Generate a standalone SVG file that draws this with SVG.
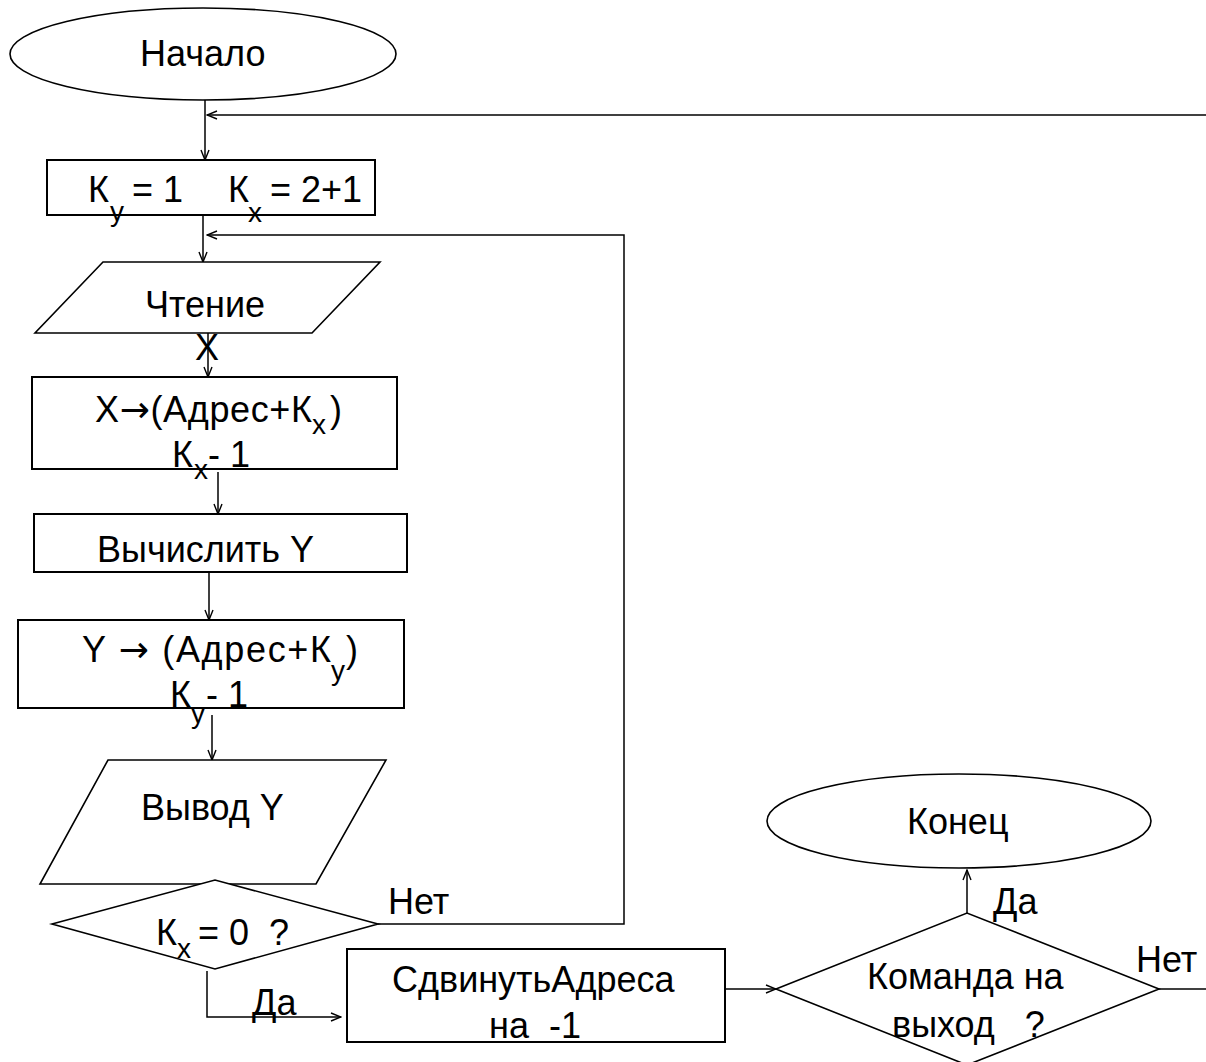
<svg xmlns="http://www.w3.org/2000/svg" width="1206" height="1062" viewBox="0 0 1206 1062">
  <defs>
    <style>
      .shape { fill: #ffffff; stroke: #000000; stroke-width: 1.6; }
      .box { fill: #ffffff; stroke: #000000; stroke-width: 2; }
      .wire { fill: none; stroke: #000000; stroke-width: 1.5; }
      text { font-family: "Liberation Sans", Arial, sans-serif; font-size: 36px; fill: #000000; }
      .mid { text-anchor: middle; }
      .sub { font-size: 28px; }
      .arr { font-family: "DejaVu Sans", sans-serif; }
    </style>
    <marker id="arrow" markerUnits="userSpaceOnUse" viewBox="0 0 12 10" refX="11" refY="5" markerWidth="12" markerHeight="10" orient="auto">
      <path d="M1,1 L11,5 L1,9" fill="none" stroke="#000000" stroke-width="1.4"/>
    </marker>
  </defs>

  <!-- connectors -->
  <g id="connectors">
    <path class="wire" d="M205,100 V160" marker-end="url(#arrow)"/>
    <path class="wire" d="M1206,115 H207" marker-end="url(#arrow)"/>
    <path class="wire" d="M203,215 V262" marker-end="url(#arrow)"/>
    <path class="wire" d="M378,924 H624 V235 H207" marker-end="url(#arrow)"/>
    <path class="wire" d="M208,333 V377" marker-end="url(#arrow)"/>
    <path class="wire" d="M218,472 V514" marker-end="url(#arrow)"/>
    <path class="wire" d="M209,572 V620" marker-end="url(#arrow)"/>
    <path class="wire" d="M212,715 V760" marker-end="url(#arrow)"/>
    <path class="wire" d="M214,850 V880" marker-end="url(#arrow)"/>
    <path class="wire" d="M207,971 V1017 H341" marker-end="url(#arrow)"/>
    <path class="wire" d="M725,989 H776" marker-end="url(#arrow)"/>
    <path class="wire" d="M967,913 V870" marker-end="url(#arrow)"/>
    <path class="wire" d="M1159,989 H1206"/>
  </g>

  <!-- start terminal -->
  <g id="start">
    <ellipse class="shape" cx="203" cy="54" rx="193" ry="46"/>
    <text x="140" y="66">Начало</text>
  </g>

  <!-- counters initialisation -->
  <g id="init">
    <rect class="box" x="47" y="160" width="328" height="55"/>
    <text x="88" y="202">К</text>
    <text x="110" y="221" class="sub">у</text>
    <text x="132" y="202">= 1</text>
    <text x="228" y="202">К</text>
    <text x="248" y="222" class="sub">х</text>
    <text x="270" y="202">= 2+1</text>
  </g>

  <!-- read input -->
  <g id="read">
    <polygon class="shape" points="103,262 380,262 312,333 35,333"/>
    <text x="145" y="317">Чтение</text>
    <text x="207" y="360" class="mid">X</text>
  </g>

  <!-- store X -->
  <g id="store-x">
    <rect class="box" x="32" y="377" width="365" height="92"/>
    <text x="95" y="422" textLength="217" lengthAdjust="spacing">X<tspan class="arr">→</tspan>(Адрес+К</text>
    <text x="312" y="434" class="sub">х</text>
    <text x="330" y="422">)</text>
    <text x="172" y="467">К</text>
    <text x="194" y="479" class="sub">х</text>
    <text x="208" y="467">- 1</text>
  </g>

  <!-- compute Y -->
  <g id="compute">
    <rect class="box" x="34" y="514" width="373" height="58"/>
    <text x="97" y="562">Вычислить Y</text>
  </g>

  <!-- store Y -->
  <g id="store-y">
    <rect class="box" x="18" y="620" width="386" height="88"/>
    <text x="82" y="662" textLength="249" lengthAdjust="spacing">Y <tspan class="arr">→</tspan> (Адрес+К</text>
    <text x="331" y="680" class="sub">у</text>
    <text x="346" y="662">)</text>
    <text x="170" y="707">К</text>
    <text x="191" y="723" class="sub">у</text>
    <text x="206" y="707">- 1</text>
  </g>

  <!-- output Y -->
  <g id="output">
    <polygon class="shape" points="108,760 386,760 316,884 40,884"/>
    <text x="141" y="820">Вывод Y</text>
  </g>

  <!-- Kx = 0 decision -->
  <g id="check-kx">
    <polygon class="shape" points="52,924 215,880 378,924 215,969"/>
    <text x="156" y="945">К</text>
    <text x="177" y="958" class="sub">х</text>
    <text x="198" y="945" xml:space="preserve">= 0  ?</text>
    <text x="388" y="914">Нет</text>
    <text x="252" y="1015">Да</text>
  </g>

  <!-- shift addresses -->
  <g id="shift">
    <rect class="box" x="347" y="949" width="378" height="93"/>
    <text x="392" y="992">СдвинутьАдреса</text>
    <text x="489" y="1038" xml:space="preserve">на  -1</text>
  </g>

  <!-- exit command decision -->
  <g id="exit-check">
    <polygon class="shape" points="776,989 967,913 1159,989 967,1065"/>
    <text x="867" y="989">Команда на</text>
    <text x="892" y="1037" xml:space="preserve">выход   ?</text>
    <text x="993" y="914">Да</text>
    <text x="1136" y="972">Нет</text>
  </g>

  <!-- end terminal -->
  <g id="end">
    <ellipse class="shape" cx="959" cy="821" rx="192" ry="47"/>
    <text x="907" y="834">Конец</text>
  </g>
</svg>
